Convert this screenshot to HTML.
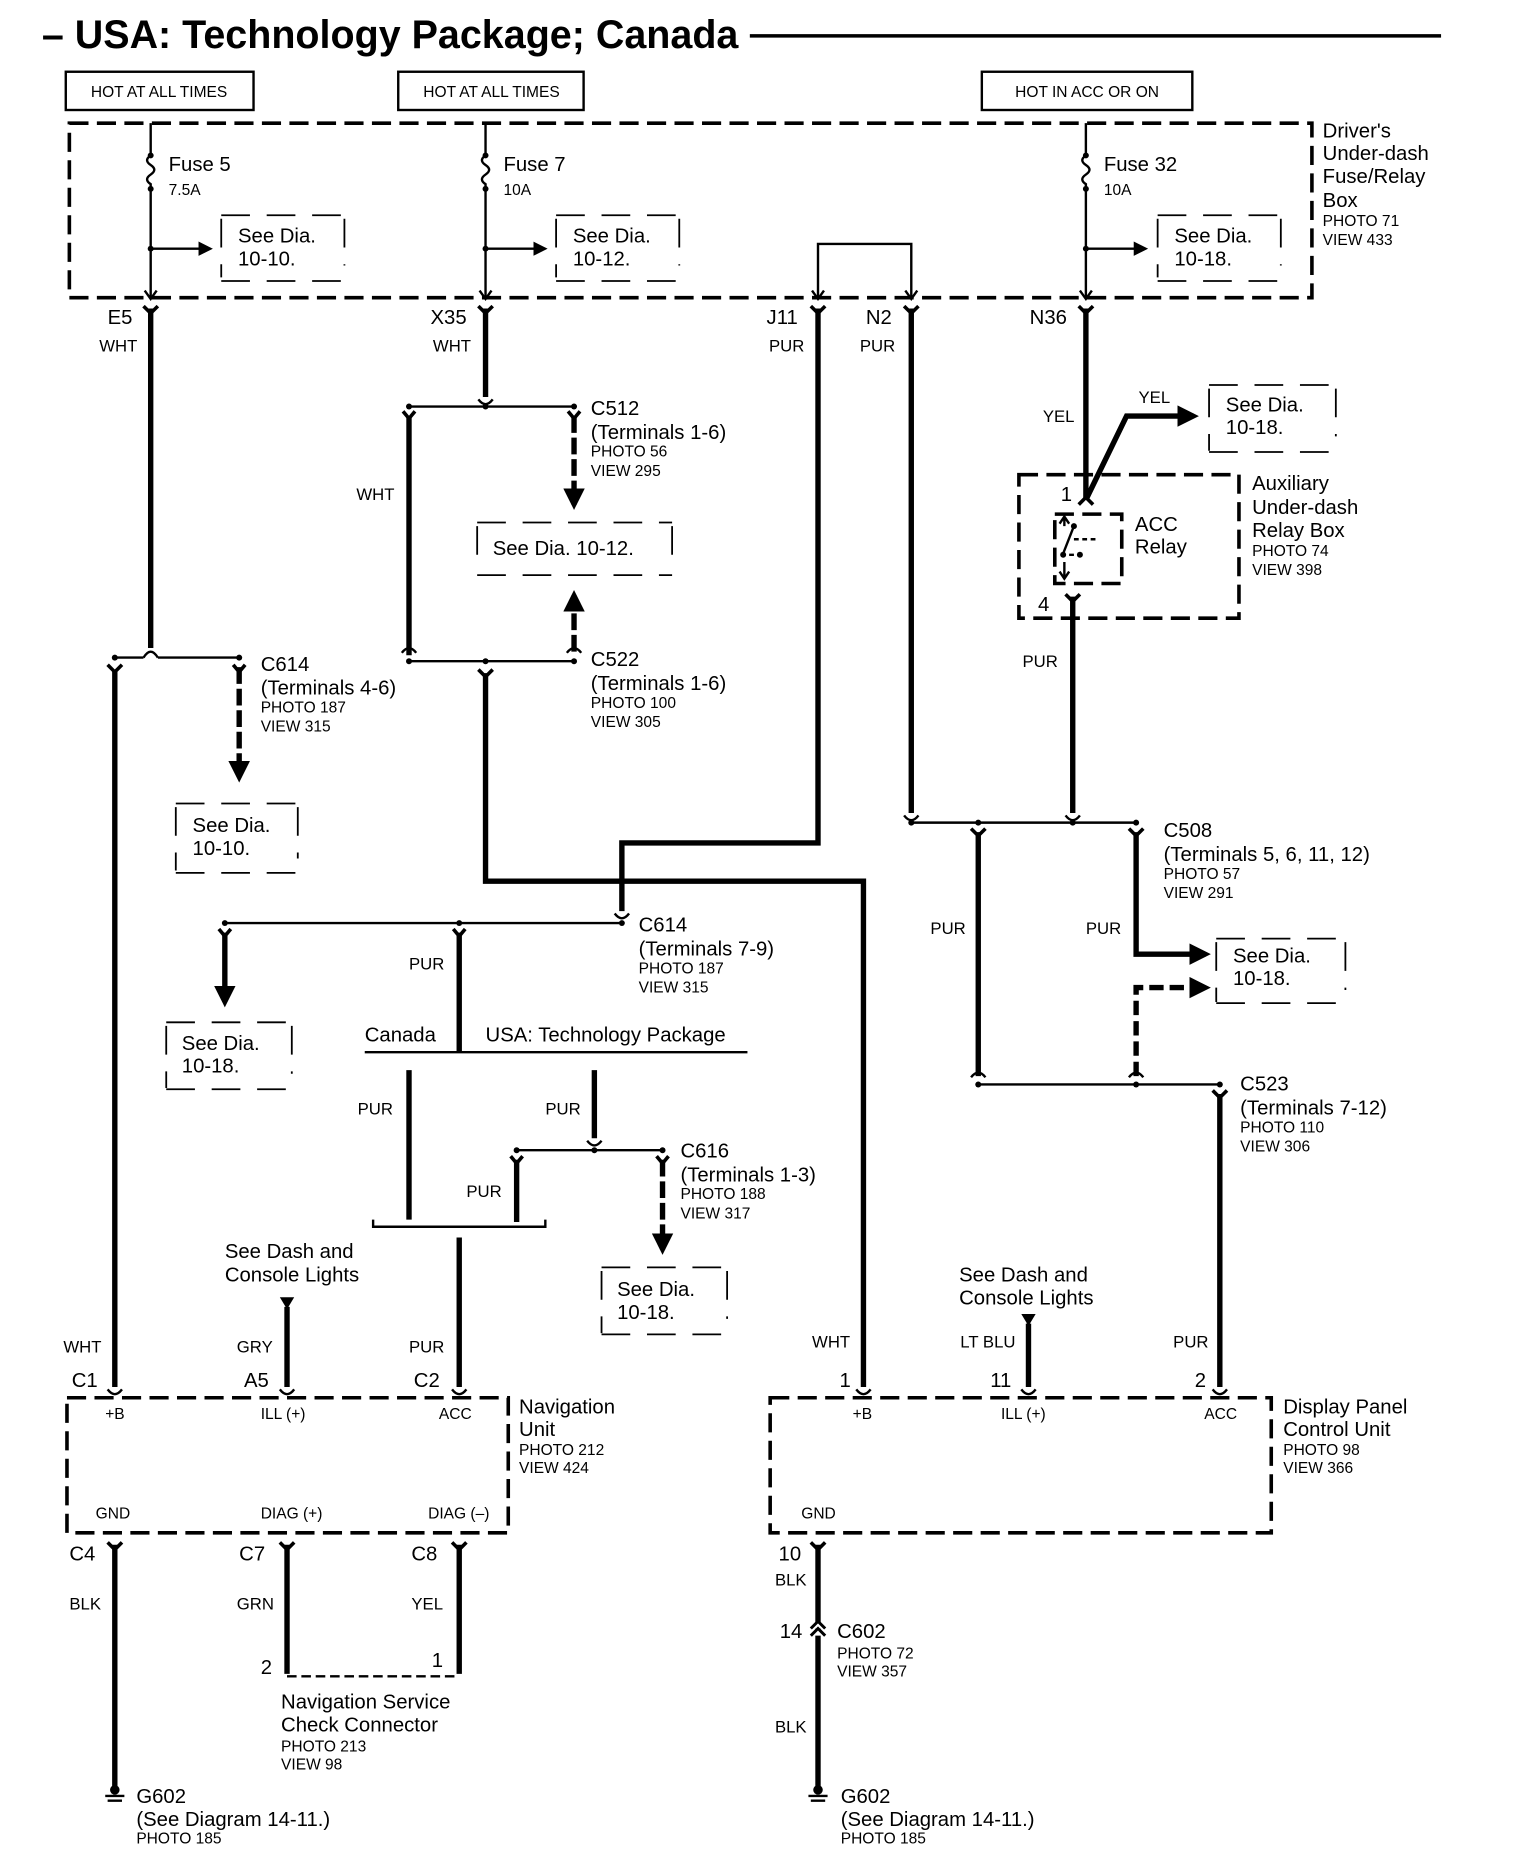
<!DOCTYPE html>
<html><head><meta charset="utf-8"><style>
html,body{margin:0;padding:0;background:#fff;}
svg{display:block;}
text{font-family:"Liberation Sans",Arial,sans-serif;fill:#000;}
.L{font-size:17px;}
.S{font-size:13px;}
.W{font-size:14px;}
.th{stroke:#000;stroke-width:4.5;fill:none;}
.tn{stroke:#000;stroke-width:2;fill:none;}
.ds{stroke:#000;stroke-width:3;fill:none;stroke-dasharray:16,7;}
.sd{stroke:#000;stroke-width:1.5;fill:none;stroke-dasharray:24,14;}
</style></head><body>
<svg width="1520" height="1876" viewBox="0 0 1271 1569" preserveAspectRatio="none" xmlns="http://www.w3.org/2000/svg">
<defs>
<marker id="ah" markerWidth="4" markerHeight="4" refX="3" refY="2" orient="auto" markerUnits="strokeWidth"><path d="M0,0 L4,2 L0,4 z" fill="#000"/></marker>
<marker id="ahs" markerWidth="6" markerHeight="6" refX="5" refY="3" orient="auto" markerUnits="strokeWidth"><path d="M0,0 L6,3 L0,6 z" fill="#000"/></marker>
</defs>
<text x="35" y="40" style="font-size:33px;font-weight:bold">– USA: Technology Package; Canada</text>
<line x1="627" y1="30" x2="1205" y2="30" stroke="#000" stroke-width="3"/>
<rect x="55" y="60" width="157" height="32" class="tn"/><text x="133" y="81" class="S" text-anchor="middle">HOT AT ALL TIMES</text>
<rect x="333" y="60" width="155" height="32" class="tn"/><text x="411" y="81" class="S" text-anchor="middle">HOT AT ALL TIMES</text>
<rect x="821" y="60" width="176" height="32" class="tn"/><text x="909" y="81" class="S" text-anchor="middle">HOT IN ACC OR ON</text>
<rect x="58" y="103" width="1039" height="146" class="ds"/>
<text x="1106" y="115" class="L">Driver's</text><text x="1106" y="134" class="L">Under-dash</text><text x="1106" y="153" class="L">Fuse/Relay</text><text x="1106" y="173" class="L">Box</text>
<text x="1106" y="189" class="S">PHOTO 71</text><text x="1106" y="205" class="S">VIEW 433</text>
<g id="f">
<path d="M126,103 V130 M126,158 V250" class="tn"/>
<path d="M126,130 q-6,4 0,8 q6,4 0,8 q-6,4 0,8 L126,158" class="tn"/>
<circle cx="126" cy="130" r="2.5"/><circle cx="126" cy="158" r="2.5"/><circle cx="126" cy="208" r="2.5"/>
<path d="M126,208 H176" class="tn" marker-end="url(#ahs)"/>
<path d="M121,243 L126,250 L131,243" class="tn"/>
<path d="M120,256 L126,262 L132,256" stroke="#000" stroke-width="3" fill="none"/>
</g>
<use href="#f" x="280"/><use href="#f" x="782"/>
<text x="141" y="143" class="L">Fuse 5</text><text x="141" y="163" class="S">7.5A</text>
<text x="421" y="143" class="L">Fuse 7</text><text x="421" y="163" class="S">10A</text>
<text x="923" y="143" class="L">Fuse 32</text><text x="923" y="163" class="S">10A</text>
<g id="sd1"><path d="M185,183 V232 M288,183 V222 M185,180 H288 M185,235 H288" class="sd"/></g>
<use href="#sd1" x="280"/><use href="#sd1" x="783"/>
<text x="199" y="203" class="L">See Dia.</text><text x="199" y="222" class="L">10-10.</text>
<text x="479" y="203" class="L">See Dia.</text><text x="479" y="222" class="L">10-12.</text>
<text x="982" y="203" class="L">See Dia.</text><text x="982" y="222" class="L">10-18.</text>
<path d="M684,250 V204 H762 V250" class="tn"/>
<path d="M679,243 L684,250 L689,243 M757,243 L762,250 L767,243" class="tn"/>
<path d="M678,256 L684,262 L690,256 M756,256 L762,262 L768,256" stroke="#000" stroke-width="3" fill="none"/>
<text x="90" y="271" class="L">E5</text><text x="360" y="271" class="L">X35</text><text x="641" y="271" class="L">J11</text><text x="724" y="271" class="L">N2</text><text x="861" y="271" class="L">N36</text>
<text x="83" y="294" class="W">WHT</text><text x="362" y="294" class="W">WHT</text><text x="643" y="294" class="W">PUR</text><text x="719" y="294" class="W">PUR</text>
<path d="M126,258 V542" class="th"/>
<path d="M96,550 H120 M132,550 H200" class="tn"/><path d="M120,550 q6,-10 12,0" class="tn"/>
<circle cx="96" cy="550" r="2.5"/><circle cx="200" cy="550" r="2.5"/>
<path d="M96,560 V1160" class="th"/><path d="M90,556 L96,562 L102,556" stroke="#000" stroke-width="3" fill="none"/>
<path d="M200,558 V650" class="th" stroke-dasharray="14,4" marker-end="url(#ah)"/>
<path d="M195,556 L200,562 L205,556" stroke="#000" stroke-width="3" fill="none"/>
<text x="218" y="561" class="L">C614</text><text x="218" y="581" class="L">(Terminals 4-6)</text><text x="218" y="596" class="S">PHOTO 187</text><text x="218" y="612" class="S">VIEW 315</text>
<g><path d="M147,675 V728 M249,675 V718 M147,672 H249 M147,730 H249" class="sd"/></g>
<text x="161" y="696" class="L">See Dia.</text><text x="161" y="715" class="L">10-10.</text>
<path d="M406,258 V332" class="th"/><path d="M400,334 q6,8 12,0" class="tn"/>
<path d="M342,340 H480" class="tn"/><circle cx="342" cy="340" r="2.5"/><circle cx="406" cy="340" r="2.5"/><circle cx="480" cy="340" r="2.5"/>
<path d="M342,348 V548" class="th"/><path d="M337,344 L342,350 L347,344" stroke="#000" stroke-width="3" fill="none"/>
<path d="M480,348 V422" class="th" stroke-dasharray="14,4" marker-end="url(#ah)"/><path d="M475,344 L480,350 L485,344" stroke="#000" stroke-width="3" fill="none"/>
<text x="298" y="418" class="W">WHT</text>
<text x="494" y="347" class="L">C512</text><text x="494" y="367" class="L">(Terminals 1-6)</text><text x="494" y="382" class="S">PHOTO 56</text><text x="494" y="398" class="S">VIEW 295</text>
<path d="M399,437 H562 M399,481 H562 M399,440 V478 M562,440 V478" class="sd"/>
<text x="412" y="464" class="L">See Dia. 10-12.</text>
<path d="M480,545 V498" class="th" stroke-dasharray="14,4" marker-end="url(#ah)"/>
<path d="M342,553 H480" class="tn"/><circle cx="342" cy="553" r="2.5"/><circle cx="406" cy="553" r="2.5"/><circle cx="480" cy="553" r="2.5"/>
<path d="M336,546 q6,-8 12,0" class="tn"/><path d="M474,546 q6,-8 12,0" class="tn"/>
<path d="M406,563 V737 H722 V1160" class="th"/><path d="M400,560 L406,566 L412,560" stroke="#000" stroke-width="3" fill="none"/>
<text x="494" y="557" class="L">C522</text><text x="494" y="577" class="L">(Terminals 1-6)</text><text x="494" y="592" class="S">PHOTO 100</text><text x="494" y="608" class="S">VIEW 305</text>
<path d="M684,258 V705 H520 V762" class="th"/>
<path d="M514,764 q6,8 12,0" class="tn"/>
<path d="M188,772 H520" class="tn"/><circle cx="188" cy="772" r="2.5"/><circle cx="384" cy="772" r="2.5"/><circle cx="520" cy="772" r="2.5"/>
<path d="M188,780 V838" class="th" marker-end="url(#ah)"/><path d="M183,777 L188,783 L193,777" stroke="#000" stroke-width="3" fill="none"/>
<text x="534" y="779" class="L">C614</text><text x="534" y="799" class="L">(Terminals 7-9)</text><text x="534" y="814" class="S">PHOTO 187</text><text x="534" y="830" class="S">VIEW 315</text>
<path d="M139,858 V910 M244,858 V898 M139,855 H244 M139,911 H244" class="sd"/>
<text x="152" y="878" class="L">See Dia.</text><text x="152" y="897" class="L">10-18.</text>
<path d="M384,780 V880" class="th"/><path d="M379,777 L384,783 L389,777" stroke="#000" stroke-width="3" fill="none"/>
<text x="342" y="811" class="W">PUR</text>
<text x="305" y="871" class="L">Canada</text><text x="406" y="871" class="L">USA: Technology Package</text>
<path d="M305,880 H625" class="tn"/>
<path d="M342,895 V1020" class="th"/><path d="M497,895 V952" class="th"/><path d="M491,954 q6,8 12,0" class="tn"/>
<text x="299" y="932" class="W">PUR</text><text x="456" y="932" class="W">PUR</text>
<path d="M432,962 H554" class="tn"/><circle cx="432" cy="962" r="2.5"/><circle cx="497" cy="962" r="2.5"/><circle cx="554" cy="962" r="2.5"/>
<path d="M432,970 V1022" class="th"/><path d="M427,967 L432,973 L437,967" stroke="#000" stroke-width="3" fill="none"/>
<path d="M554,970 V1045" class="th" stroke-dasharray="14,4" marker-end="url(#ah)"/><path d="M549,967 L554,973 L559,967" stroke="#000" stroke-width="3" fill="none"/>
<text x="390" y="1001" class="W">PUR</text>
<text x="569" y="968" class="L">C616</text><text x="569" y="988" class="L">(Terminals 1-3)</text><text x="569" y="1003" class="S">PHOTO 188</text><text x="569" y="1019" class="S">VIEW 317</text>
<path d="M503,1063 V1115 M608,1063 V1103 M503,1060 H608 M503,1116 H608" class="sd"/>
<text x="516" y="1084" class="L">See Dia.</text><text x="516" y="1103" class="L">10-18.</text>
<path d="M312,1020 V1026 H456 V1020" class="tn"/>
<path d="M384,1035 V1160" class="th"/>
<text x="188" y="1052" class="L">See Dash and</text><text x="188" y="1072" class="L">Console Lights</text>
<path d="M234,1085 H246 L240,1095 z" fill="#000"/><path d="M240,1093 V1160" class="th"/>
<text x="53" y="1131" class="W">WHT</text><text x="198" y="1131" class="W">GRY</text><text x="342" y="1131" class="W">PUR</text>
<text x="60" y="1160" class="L">C1</text><text x="204" y="1160" class="L">A5</text><text x="346" y="1160" class="L">C2</text>
<path d="M90,1162 q6,8 12,0 M234,1162 q6,8 12,0 M378,1162 q6,8 12,0" class="tn"/>
<rect x="56" y="1169" width="369" height="113" class="ds"/>
<text x="88" y="1187" class="S">+B</text><text x="218" y="1187" class="S">ILL (+)</text><text x="367" y="1187" class="S">ACC</text>
<text x="80" y="1270" class="S">GND</text><text x="218" y="1270" class="S">DIAG (+)</text><text x="358" y="1270" class="S">DIAG (–)</text>
<text x="434" y="1182" class="L">Navigation</text><text x="434" y="1201" class="L">Unit</text><text x="434" y="1217" class="S">PHOTO 212</text><text x="434" y="1232" class="S">VIEW 424</text>
<text x="58" y="1305" class="L">C4</text><text x="200" y="1305" class="L">C7</text><text x="344" y="1305" class="L">C8</text>
<path d="M90,1290 L96,1296 L102,1290 M234,1290 L240,1296 L246,1290 M378,1290 L384,1296 L390,1290" stroke="#000" stroke-width="3" fill="none"/>
<path d="M96,1292 V1494" class="th"/><path d="M240,1292 V1400" class="th"/><path d="M384,1292 V1400" class="th"/>
<text x="58" y="1346" class="W">BLK</text><text x="198" y="1346" class="W">GRN</text><text x="344" y="1346" class="W">YEL</text>
<text x="218" y="1400" class="L">2</text><text x="361" y="1394" class="L">1</text>
<path d="M240,1402 H384" class="tn" stroke-dasharray="8,4"/>
<text x="235" y="1429" class="L">Navigation Service</text><text x="235" y="1448" class="L">Check Connector</text><text x="235" y="1465" class="S">PHOTO 213</text><text x="235" y="1480" class="S">VIEW 98</text>
<g id="gnd"><circle cx="96" cy="1497" r="4"/><path d="M88,1502 H104 M90,1506 H102" class="tn"/></g>
<text x="114" y="1508" class="L">G602</text><text x="114" y="1527" class="L">(See Diagram 14-11.)</text><text x="114" y="1542" class="S">PHOTO 185</text>
<path d="M908,258 V418" class="th"/>
<path d="M908,418 L942,348 H998" class="th" marker-end="url(#ah)"/>
<text x="872" y="353" class="W">YEL</text><text x="952" y="337" class="W">YEL</text>
<path d="M1011,325 V377 M1117,325 V365 M1011,322 H1117 M1011,378 H1117" class="sd"/>
<text x="1025" y="344" class="L">See Dia.</text><text x="1025" y="363" class="L">10-18.</text>
<rect x="852" y="397" width="184" height="120" class="ds"/>
<rect x="882" y="430" width="56" height="58" class="ds" stroke-dasharray="10,6"/>
<path d="M902,422 L908,416 L914,422" stroke="#000" stroke-width="3" fill="none"/>
<path d="M890,433 V440 M886,438 L890,432 L894,438 M890,484 V470 M886,478 L890,484 L894,478" class="tn"/>
<path d="M889,463 L898,440" class="tn"/><circle cx="898" cy="440" r="2.5"/><circle cx="889" cy="464" r="2.5"/><circle cx="903" cy="464" r="2.5"/>
<path d="M894,464 H902 M898,451 H916" class="tn" stroke-dasharray="4,3"/>
<text x="887" y="419" class="L">1</text><text x="868" y="511" class="L">4</text>
<text x="949" y="444" class="L">ACC</text><text x="949" y="463" class="L">Relay</text>
<text x="1047" y="410" class="L">Auxiliary</text><text x="1047" y="430" class="L">Under-dash</text><text x="1047" y="449" class="L">Relay Box</text><text x="1047" y="465" class="S">PHOTO 74</text><text x="1047" y="481" class="S">VIEW 398</text>
<path d="M891,497 L897,503 L903,497" stroke="#000" stroke-width="3" fill="none"/>
<path d="M897,499 V680" class="th"/>
<text x="855" y="558" class="W">PUR</text>
<path d="M762,258 V680" class="th"/>
<path d="M756,682 q6,8 12,0 M891,682 q6,8 12,0" class="tn"/>
<path d="M762,688 H950" class="tn"/><circle cx="762" cy="688" r="2.5"/><circle cx="818" cy="688" r="2.5"/><circle cx="897" cy="688" r="2.5"/><circle cx="950" cy="688" r="2.5"/>
<path d="M812,693 L818,699 L824,693 M944,693 L950,699 L956,693" stroke="#000" stroke-width="3" fill="none"/>
<path d="M818,696 V900" class="th"/>
<path d="M950,696 V798 H1008" class="th" marker-end="url(#ah)"/>
<path d="M950,900 V826 H1008" class="th" stroke-dasharray="12,5" marker-end="url(#ah)"/>
<text x="973" y="700" class="L">C508</text><text x="973" y="720" class="L">(Terminals 5, 6, 11, 12)</text><text x="973" y="735" class="S">PHOTO 57</text><text x="973" y="751" class="S">VIEW 291</text>
<text x="778" y="781" class="W">PUR</text><text x="908" y="781" class="W">PUR</text>
<path d="M1017,788 V838 M1125,788 V828 M1017,785 H1125 M1017,839 H1125" class="sd"/>
<text x="1031" y="805" class="L">See Dia.</text><text x="1031" y="824" class="L">10-18.</text>
<path d="M812,901 q6,-8 12,0 M944,901 q6,-8 12,0" class="tn"/>
<path d="M818,907 H1020" class="tn"/><circle cx="818" cy="907" r="2.5"/><circle cx="950" cy="907" r="2.5"/><circle cx="1020" cy="907" r="2.5"/>
<path d="M1014,912 L1020,918 L1026,912" stroke="#000" stroke-width="3" fill="none"/>
<path d="M1020,915 V1160" class="th"/>
<text x="1037" y="912" class="L">C523</text><text x="1037" y="932" class="L">(Terminals 7-12)</text><text x="1037" y="947" class="S">PHOTO 110</text><text x="1037" y="963" class="S">VIEW 306</text>
<text x="802" y="1072" class="L">See Dash and</text><text x="802" y="1091" class="L">Console Lights</text>
<path d="M854,1099 H866 L860,1109 z" fill="#000"/><path d="M860,1107 V1160" class="th"/>
<text x="679" y="1127" class="W">WHT</text><text x="803" y="1127" class="W">LT BLU</text><text x="981" y="1127" class="W">PUR</text>
<text x="702" y="1160" class="L">1</text><text x="828" y="1160" class="L">11</text><text x="999" y="1160" class="L">2</text>
<path d="M716,1162 q6,8 12,0 M854,1162 q6,8 12,0 M1014,1162 q6,8 12,0" class="tn"/>
<rect x="644" y="1169" width="419" height="113" class="ds"/>
<text x="713" y="1187" class="S">+B</text><text x="837" y="1187" class="S">ILL (+)</text><text x="1007" y="1187" class="S">ACC</text>
<text x="670" y="1270" class="S">GND</text>
<text x="1073" y="1182" class="L">Display Panel</text><text x="1073" y="1201" class="L">Control Unit</text><text x="1073" y="1217" class="S">PHOTO 98</text><text x="1073" y="1232" class="S">VIEW 366</text>
<path d="M678,1290 L684,1296 L690,1290" stroke="#000" stroke-width="3" fill="none"/>
<path d="M684,1292 V1494" class="th"/>
<path d="M678,1368 L684,1362 L690,1368 M678,1362 L684,1356 L690,1362" stroke="#000" stroke-width="2.5" fill="#fff"/>
<text x="651" y="1305" class="L">10</text><text x="648" y="1326" class="W">BLK</text><text x="652" y="1370" class="L">14</text>
<text x="700" y="1370" class="L">C602</text><text x="700" y="1387" class="S">PHOTO 72</text><text x="700" y="1402" class="S">VIEW 357</text>
<text x="648" y="1449" class="W">BLK</text>
<use href="#gnd" x="588"/>
<text x="703" y="1508" class="L">G602</text><text x="703" y="1527" class="L">(See Diagram 14-11.)</text><text x="703" y="1542" class="S">PHOTO 185</text>
</svg>
</body></html>
